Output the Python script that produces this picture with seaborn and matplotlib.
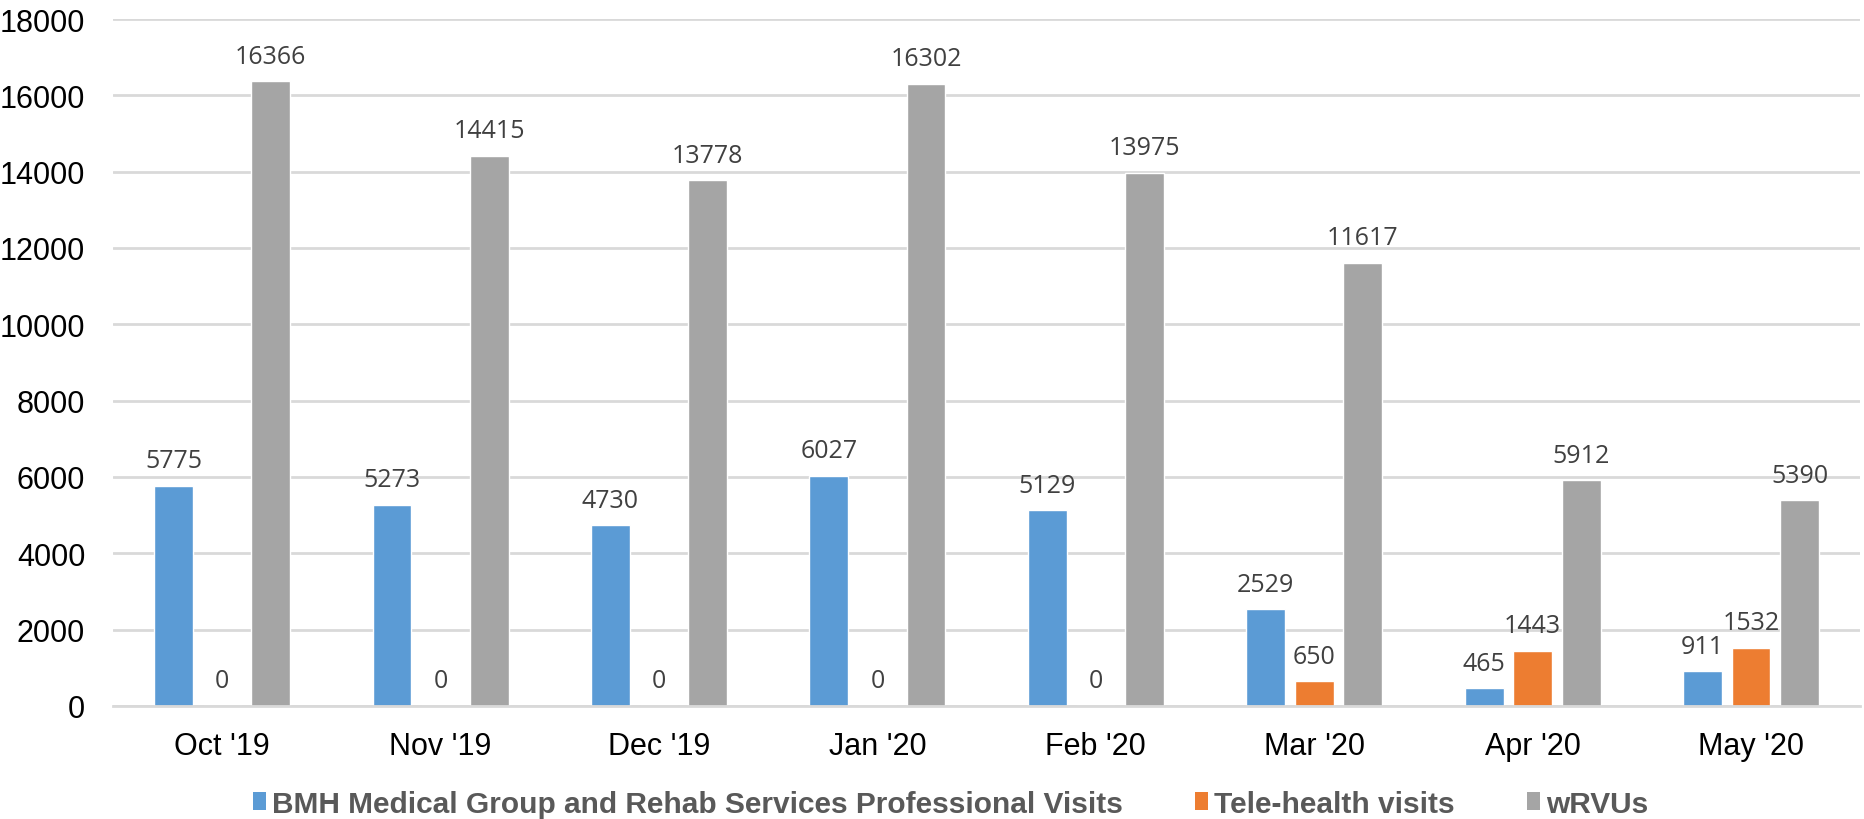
import matplotlib
matplotlib.use("Agg")
import matplotlib.pyplot as plt
import seaborn as sns
import pandas as pd
from matplotlib.patches import Patch

months = ["Oct '19", "Nov '19", "Dec '19", "Jan '20", "Feb '20", "Mar '20", "Apr '20", "May '20"]
series_names = ["BMH Medical Group and Rehab Services Professional Visits", "Tele-health visits", "wRVUs"]
visits = [5775, 5273, 4730, 6027, 5129, 2529, 465, 911]
telehealth = [0, 0, 0, 0, 0, 650, 1443, 1532]
wrvus = [16366, 14415, 13778, 16302, 13975, 11617, 5912, 5390]
colors = ["#5B9BD5", "#ED7D31", "#A5A5A5"]

rows = []
for vals, name in zip([visits, telehealth, wrvus], series_names):
    for m, v in zip(months, vals):
        rows.append({"month": m, "series": name, "value": v})
df = pd.DataFrame(rows)

sns.set_theme(style="white")
plt.rcParams['font.family'] = ['Liberation Sans', 'DejaVu Sans']

fig = plt.figure(figsize=(18.64, 8.2), dpi=100)
ax = fig.add_axes([113/1864, 1-707/820, 1-113/1864-0.002, (707-20)/820])

sns.barplot(data=df, x="month", y="value", hue="series", order=months,
            hue_order=series_names, palette=colors, width=0.667, gap=0.2,
            saturation=1, edgecolor="white", linewidth=1, ax=ax, legend=False)

for cont in ax.containers:
    ax.bar_label(cont, fmt="%d", padding=9, fontsize=18, color="#404040",
                 family=["Open Sans", "DejaVu Sans"])

ax.set_ylim(0, 18000)
ax.set_yticks(range(0, 18001, 2000))
ax.yaxis.grid(True, color="#D9D9D9", linewidth=2)
ax.set_axisbelow(True)
ax.set_xlim(-0.5, 7.5)
for s in ["top", "right", "left"]:
    ax.spines[s].set_visible(False)
ax.spines["bottom"].set_color("#D9D9D9")
ax.spines["bottom"].set_linewidth(2)
ax.tick_params(axis="y", length=0, pad=20, labelsize=22, labelcolor="black")
ax.tick_params(axis="x", length=0, pad=18, labelsize=22, labelcolor="black")
ax.set_xlabel("")
ax.set_ylabel("")

handles = [Patch(facecolor=c, edgecolor="none") for c in colors]
fig.legend(handles, series_names, loc="center", bbox_to_anchor=(0.51, 1-805/820),
           ncol=3, frameon=False, handlelength=0.45, handleheight=0.55, handletextpad=0.2,
           columnspacing=2.4, prop={"weight": "bold", "size": 21.5}, labelcolor="#595959")

fig.savefig("out.png", dpi=100)
